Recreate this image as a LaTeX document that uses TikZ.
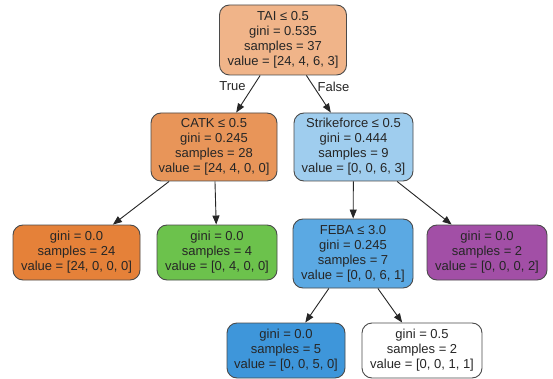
\documentclass[tikz,border=0pt]{standalone}
\usepackage{fontspec}
\setmainfont{Liberation Sans}
\usetikzlibrary{arrows.meta}
\definecolor{ink}{HTML}{262626}
\definecolor{rim}{HTML}{4A4A4A}
\definecolor{cRoot}{HTML}{F0B489}
\definecolor{cCatk}{HTML}{E89559}
\definecolor{cOrange}{HTML}{E58139}
\definecolor{cGreen}{HTML}{6CC24C}
\definecolor{cStrike}{HTML}{9FCDEE}
\definecolor{cFeba}{HTML}{5BA9E3}
\definecolor{cPurple}{HTML}{A24FA6}
\definecolor{cBlue}{HTML}{3E96DA}
\tikzset{
  treenode/.style={draw=rim, line width=0.9pt, rounded corners=10pt,
    align=center, inner sep=0pt, text=ink,
    font=\fontsize{13}{15}\selectfont},
  edgeline/.style={draw=ink, line width=0.9pt,
    -{Triangle[length=9pt,width=7pt]}},
  edgelabel/.style={text=ink, font=\fontsize{13}{15}\selectfont}
}
\begin{document}
\begin{tikzpicture}[x=1pt,y=-1pt]
\useasboundingbox (0,0) rectangle (553,379);
\fill[white] (0,0) rectangle (553,379);

% decision nodes
\node[treenode, fill=cRoot, minimum width=127pt, minimum height=70pt] (root) at (283,40)
  {TAI ≤ 0.5\\gini = 0.535\\samples = 37\\value = [24, 4, 6, 3]};
\node[treenode, fill=cCatk, minimum width=126pt, minimum height=68pt] (catk) at (214,147)
  {CATK ≤ 0.5\\gini = 0.245\\samples = 28\\value = [24, 4, 0, 0]};
\node[treenode, fill=cStrike, minimum width=119pt, minimum height=68pt] (strike) at (353.5,147)
  {Strikeforce ≤ 0.5\\gini = 0.444\\samples = 9\\value = [0, 0, 6, 3]};
\node[treenode, fill=cFeba, minimum width=120pt, minimum height=69pt] (feba) at (353,253.5)
  {FEBA ≤ 3.0\\gini = 0.245\\samples = 7\\value = [0, 0, 6, 1]};

% leaves
\node[treenode, fill=cOrange, minimum width=127pt, minimum height=55pt] (leafA) at (76.5,252.5)
  {gini = 0.0\\samples = 24\\value = [24, 0, 0, 0]};
\node[treenode, fill=cGreen, minimum width=120pt, minimum height=55pt] (leafB) at (217,252.5)
  {gini = 0.0\\samples = 4\\value = [0, 4, 0, 0]};
\node[treenode, fill=cPurple, minimum width=120pt, minimum height=55pt] (leafC) at (487,252.5)
  {gini = 0.0\\samples = 2\\value = [0, 0, 0, 2]};
\node[treenode, fill=cBlue, minimum width=118pt, minimum height=55pt] (leafD) at (286,350.5)
  {gini = 0.0\\samples = 5\\value = [0, 0, 5, 0]};
\node[treenode, fill=white, minimum width=120pt, minimum height=55pt] (leafE) at (422,350.5)
  {gini = 0.5\\samples = 2\\value = [0, 0, 1, 1]};

% connectors
\draw[edgeline] (root) -- (catk);
\draw[edgeline] (root) -- (strike);
\draw[edgeline] (catk) -- (leafA);
\draw[edgeline] (catk) -- (leafB);
\draw[edgeline] (strike) -- (feba);
\draw[edgeline] (strike) -- (leafC);
\draw[edgeline] (feba) -- (leafD);
\draw[edgeline] (feba) -- (leafE);

\node[edgelabel] (lblTrue) at (232.5,86.5) {True};
\node[edgelabel] (lblFalse) at (333.5,86.5) {False};
\end{tikzpicture}
\end{document}
